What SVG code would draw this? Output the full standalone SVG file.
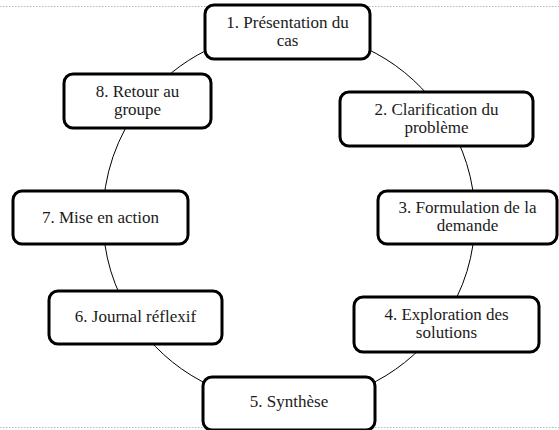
<svg xmlns="http://www.w3.org/2000/svg" width="559" height="430" viewBox="0 0 559 430">
<style>
.frame{stroke:#a9bcc8;stroke-width:1;stroke-dasharray:1.5 1.5;fill:none}
.arc{fill:none;stroke:#000;stroke-width:1}
.box{fill:#fff;stroke:#000;stroke-width:3}
.t{font-family:'Liberation Serif','Times New Roman',serif;font-size:17px;fill:#1a1a1a;text-anchor:middle}
</style>
<line class="frame" x1="0" y1="6.5" x2="559" y2="6.5"/>
<line class="frame" x1="0" y1="427.5" x2="559" y2="427.5"/>
<g id="connectors">
<path class="arc" d="M288 31 A186 186 0 0 1 443 115"/>
<path class="arc" d="M443 115 A186 186 0 0 1 475 217"/>
<path class="arc" d="M475 217 A186 186 0 0 1 443 321"/>
<path class="arc" d="M443 321 A186 186 0 0 1 289 403"/>
<path class="arc" d="M289 403 A186 186 0 0 1 134 320"/>
<path class="arc" d="M134 320 A186 186 0 0 1 103 217"/>
<path class="arc" d="M103 217 A186 186 0 0 1 142 103"/>
<path class="arc" d="M142 103 A186 186 0 0 1 288 31"/>
</g>
<g id="n1"><rect class="box" x="205" y="5" width="165" height="54" rx="9"/><text class="t" x="287.5" y="27.5">1. Présentation du</text><text class="t" x="287.5" y="45.5">cas</text></g>
<g id="n2"><rect class="box" x="340" y="92" width="193" height="54" rx="9"/><text class="t" x="436.5" y="114.5">2. Clarification du</text><text class="t" x="436.5" y="132.5">problème</text></g>
<g id="n3"><rect class="box" x="378" y="191" width="179" height="53" rx="9"/><text class="t" x="467.5" y="213">3. Formulation de la</text><text class="t" x="467.5" y="231">demande</text></g>
<g id="n4"><rect class="box" x="354" y="297" width="185" height="55" rx="9"/><text class="t" x="446.5" y="320">4. Exploration des</text><text class="t" x="446.5" y="338">solutions</text></g>
<g id="n5"><rect class="box" x="203" y="377" width="172" height="53" rx="9"/><text class="t" x="289" y="407">5. Synthèse</text></g>
<g id="n6"><rect class="box" x="49" y="291" width="173" height="53" rx="9"/><text class="t" x="135.5" y="322">6. Journal réflexif</text></g>
<g id="n7"><rect class="box" x="13" y="191" width="175" height="53" rx="9"/><text class="t" x="100.5" y="223">7. Mise en action</text></g>
<g id="n8"><rect class="box" x="64" y="74" width="147" height="54" rx="9"/><text class="t" x="137.5" y="96.5">8. Retour au</text><text class="t" x="137.5" y="114.5">groupe</text></g>
</svg>
